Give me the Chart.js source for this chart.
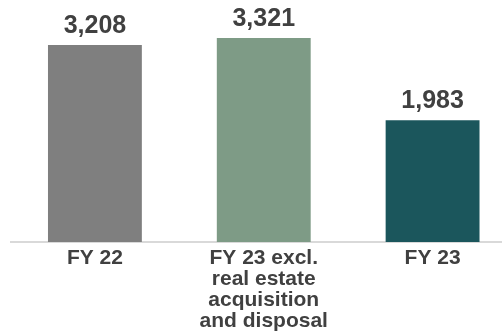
<!DOCTYPE html>
<html>
<head>
<meta charset="utf-8">
<script src="https://cdn.jsdelivr.net/npm/chart.js@4/dist/chart.umd.min.js"></script>
<style>
  html, body { margin: 0; padding: 0; background: #ffffff; overflow: hidden; }
  #wrap { position: relative; width: 517px; height: 331px; }
</style>
</head>
<body>
<div id="wrap"><canvas id="c"></canvas></div>
<script>
// Categories and values
const categories = [
  ['FY 22'],
  ['FY 23 excl.', 'real estate', 'acquisition', 'and disposal'],
  ['FY 23']
];
const values = [3208, 3321, 1983];
const barColors = ['#7f7f7f', '#7e9b86', '#1b565c'];

const FONT = "'Liberation Sans', Arial, sans-serif";
const TEXT = '#404040';

// Writes each bar's value above it
const valueLabels = {
  id: 'valueLabels',
  afterDatasetsDraw(chart) {
    const ctx = chart.ctx;
    const meta = chart.getDatasetMeta(0);
    ctx.save();
    ctx.font = 'bold 25px ' + FONT;
    ctx.fillStyle = TEXT;
    ctx.textAlign = 'center';
    ctx.textBaseline = 'alphabetic';
    meta.data.forEach((bar, i) => {
      const v = chart.data.datasets[0].data[i];
      ctx.fillText(v.toLocaleString('en-US'), bar.x, bar.y - 12);
    });
    ctx.restore();
  }
};

new Chart(document.getElementById('c'), {
  type: 'bar',
  data: {
    labels: categories,
    datasets: [{
      data: values,
      backgroundColor: barColors,
      borderWidth: 0,
      categoryPercentage: 1,
      barPercentage: 0.556
    }]
  },
  options: {
    responsive: true,
    maintainAspectRatio: false,
    animation: false,
    layout: { padding: { top: 8.6, left: 10.5, right: 0, bottom: 0 } },
    plugins: {
      legend: { display: false },
      tooltip: { enabled: false }
    },
    scales: {
      x: {
        grid: { display: false, drawTicks: false },
        border: { display: true, color: '#d9d9d9', width: 2 },
        ticks: {
          color: TEXT,
          font: { family: FONT, size: 21, weight: 'bold', lineHeight: 1 },
          padding: 6,
          maxRotation: 0,
          autoSkip: false
        },
        afterFit(scale) { scale.height = 89; }
      },
      y: {
        display: false,
        min: 0,
        max: 3800
      }
    }
  },
  plugins: [valueLabels]
});
</script>
</body>
</html>
